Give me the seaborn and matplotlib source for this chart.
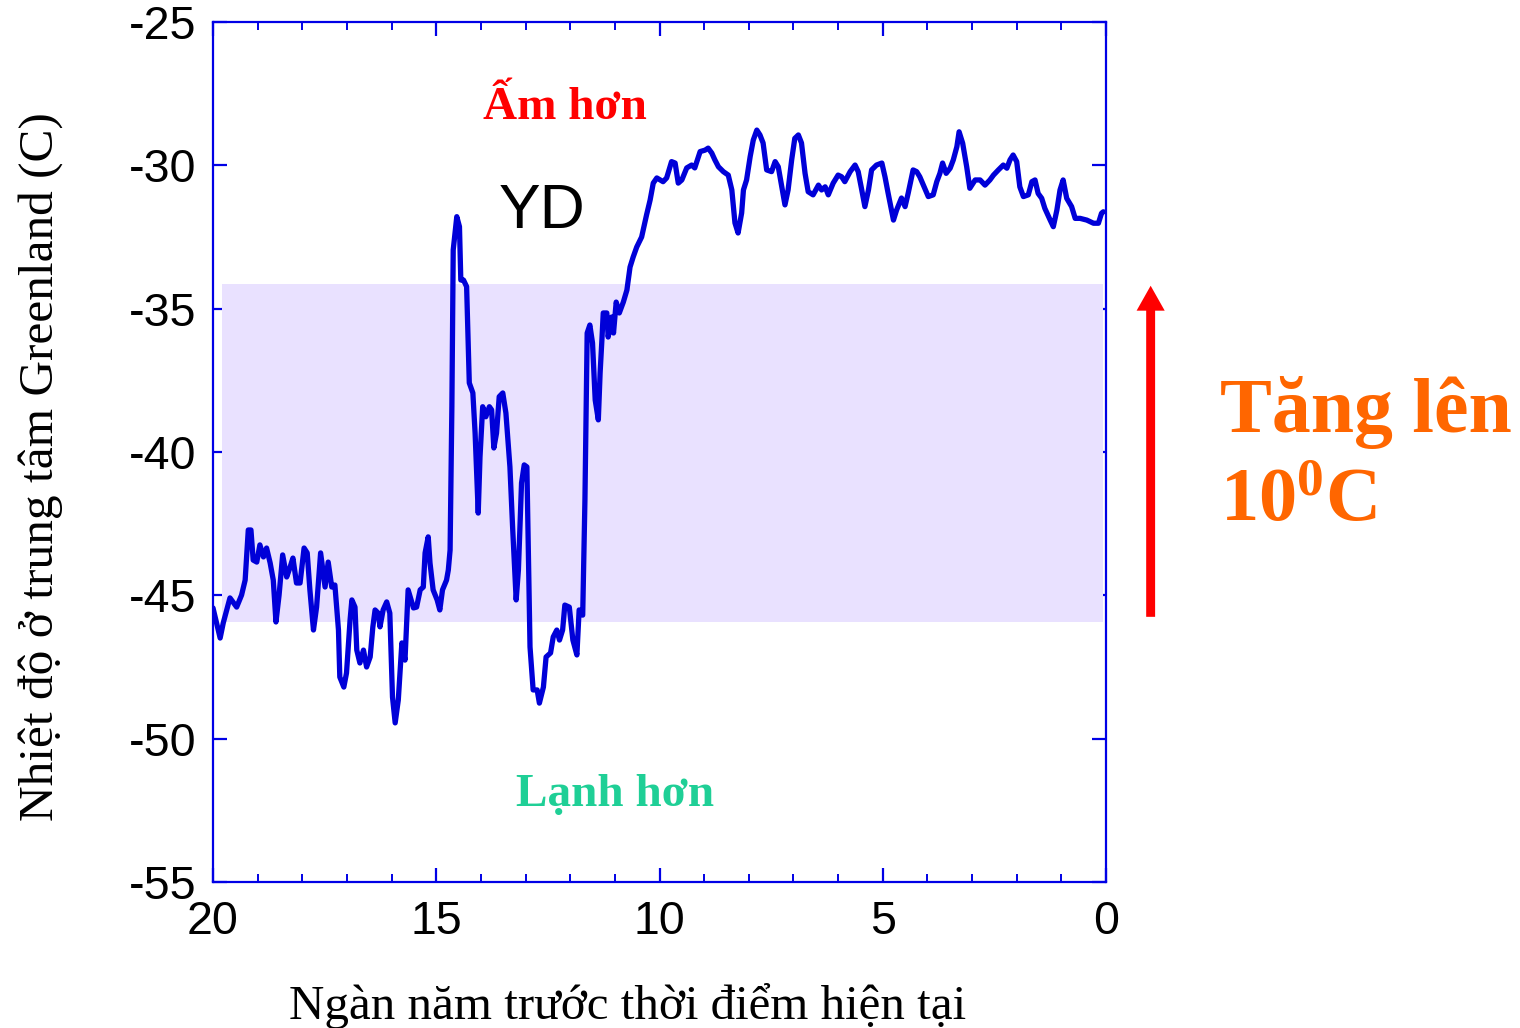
import numpy as np
import pandas as pd
import matplotlib
matplotlib.use("Agg")
import matplotlib.pyplot as plt
import seaborn as sns
from matplotlib.ticker import MultipleLocator

# Central Greenland temperature reconstruction (thousand years before present, deg C)
age_kyr = [
    20.00, 19.84, 19.77, 19.62, 19.47, 19.36, 19.28, 19.21, 19.15, 19.10,
    19.02, 18.95, 18.87, 18.80, 18.72, 18.65, 18.59, 18.52, 18.44, 18.35,
    18.28, 18.21, 18.13, 18.05, 17.96, 17.89, 17.83, 17.75, 17.68, 17.59,
    17.49, 17.42, 17.34, 17.27, 17.19, 17.16, 17.07, 17.01, 16.93, 16.89,
    16.82, 16.78, 16.71, 16.63, 16.56, 16.48, 16.42, 16.37, 16.30, 16.26,
    16.19, 16.11, 16.04, 15.98, 15.92, 15.85, 15.77, 15.70, 15.63, 15.51,
    15.44, 15.36, 15.29, 15.25, 15.18, 15.14, 15.07, 14.98, 14.92, 14.86,
    14.77, 14.73, 14.69, 14.65, 14.62, 14.54, 14.48, 14.45, 14.39, 14.32,
    14.26, 14.18, 14.13, 14.06, 14.02, 13.96, 13.89, 13.81, 13.76, 13.71,
    13.65, 13.59, 13.51, 13.44, 13.35, 13.29, 13.21, 13.16, 13.09, 13.03,
    12.97, 12.90, 12.83, 12.74, 12.69, 12.60, 12.54, 12.44, 12.38, 12.30,
    12.24, 12.17, 12.12, 12.02, 11.94, 11.85, 11.80, 11.72, 11.67, 11.62,
    11.56, 11.50, 11.44, 11.37, 11.33, 11.29, 11.26, 11.18, 11.15, 11.07,
    11.03, 10.97, 10.90, 10.81, 10.73, 10.66, 10.59, 10.51, 10.40, 10.29,
    10.21, 10.14, 10.06, 9.92, 9.84, 9.73, 9.65, 9.58, 9.50, 9.39,
    9.28, 9.21, 9.09, 8.98, 8.91, 8.83, 8.76, 8.68, 8.57, 8.46,
    8.38, 8.31, 8.24, 8.16, 8.12, 8.05, 7.97, 7.90, 7.82, 7.75,
    7.68, 7.60, 7.49, 7.41, 7.34, 7.26, 7.19, 7.12, 7.04, 6.97,
    6.89, 6.82, 6.74, 6.67, 6.56, 6.44, 6.37, 6.29, 6.22, 6.11,
    6.00, 5.92, 5.85, 5.73, 5.62, 5.55, 5.47, 5.40, 5.32, 5.25,
    5.14, 5.02, 4.95, 4.88, 4.76, 4.69, 4.58, 4.50, 4.43, 4.32,
    4.24, 4.17, 4.09, 3.98, 3.87, 3.79, 3.72, 3.66, 3.58, 3.49,
    3.42, 3.34, 3.29, 3.21, 3.12, 3.05, 2.93, 2.82, 2.71, 2.60,
    2.52, 2.41, 2.30, 2.22, 2.15, 2.08, 2.00, 1.93, 1.85, 1.74,
    1.66, 1.59, 1.52, 1.44, 1.37, 1.25, 1.18, 1.10, 1.03, 0.96,
    0.88, 0.77, 0.69, 0.58, 0.43, 0.28, 0.17, 0.10, 0.06,
]
temp_c = [
    -45.44, -46.49, -45.96, -45.09, -45.41, -44.99, -44.47, -42.72, -42.72, -43.77,
    -43.84, -43.24, -43.66, -43.35, -43.87, -44.47, -45.93, -44.99, -43.59, -44.36,
    -44.05, -43.70, -44.57, -44.57, -43.35, -43.52, -44.81, -46.21, -45.41, -43.52,
    -44.71, -43.84, -44.71, -44.64, -46.21, -47.85, -48.20, -47.71, -45.86, -45.16,
    -45.41, -46.91, -47.36, -46.91, -47.50, -47.15, -46.10, -45.51, -45.62, -46.10,
    -45.51, -45.23, -45.62, -48.55, -49.45, -48.65, -46.66, -47.26, -44.81, -45.44,
    -45.41, -44.81, -44.71, -43.52, -42.96, -43.87, -44.81, -45.16, -45.51, -44.81,
    -44.47, -44.12, -43.42, -38.42, -32.95, -31.79, -32.14, -34.00, -34.00, -34.23,
    -37.59, -37.94, -39.34, -42.13, -40.17, -38.42, -38.77, -38.42, -38.53, -39.86,
    -39.34, -38.07, -37.94, -38.64, -40.52, -42.62, -45.16, -44.12, -41.08, -40.45,
    -40.52, -46.80, -48.30, -48.30, -48.76, -48.20, -47.15, -47.01, -46.45, -46.21,
    -46.56, -46.21, -45.34, -45.41, -46.56, -47.08, -45.51, -45.69, -41.67, -35.85,
    -35.57, -36.20, -38.19, -38.88, -37.24, -36.09, -35.15, -35.15, -35.99, -35.29,
    -35.85, -34.77, -35.15, -34.77, -34.35, -33.55, -33.20, -32.85, -32.50, -31.73,
    -31.21, -30.62, -30.44, -30.57, -30.44, -29.87, -29.92, -30.62, -30.51, -30.09,
    -29.99, -30.09, -29.52, -29.47, -29.40, -29.57, -29.81, -30.05, -30.22, -30.34,
    -30.86, -32.01, -32.36, -31.66, -30.86, -30.51, -29.70, -29.12, -28.77, -28.94,
    -29.22, -30.16, -30.22, -29.87, -30.05, -30.75, -31.38, -30.86, -29.81, -29.06,
    -28.94, -29.22, -30.28, -30.92, -31.03, -30.69, -30.86, -30.75, -31.03, -30.62,
    -30.34, -30.40, -30.57, -30.22, -29.99, -30.22, -30.86, -31.44, -30.86, -30.16,
    -29.99, -29.92, -30.40, -30.97, -31.91, -31.56, -31.14, -31.44, -30.97, -30.16,
    -30.22, -30.40, -30.69, -31.09, -31.03, -30.57, -30.28, -29.92, -30.28, -30.10,
    -29.81, -29.35, -28.83, -29.23, -30.05, -30.80, -30.51, -30.51, -30.69, -30.51,
    -30.34, -30.16, -29.99, -30.10, -29.81, -29.64, -29.87, -30.75, -31.09, -31.03,
    -30.57, -30.51, -30.98, -31.15, -31.50, -31.91, -32.14, -31.56, -30.86, -30.51,
    -31.15, -31.44, -31.85, -31.85, -31.91, -32.02, -32.02, -31.67, -31.62,
]

# Shaded glacial-to-Holocene range
band_age = [19.8, 0.07]
band_low = -45.93
band_high = -34.14

# Warming arrow (placed just right of the plot, age axis units)
arrow_age = -1.0
arrow_from = -45.75
arrow_to = -34.2

x_ticks = [20, 15, 10, 5, 0]
y_ticks = [-55, -50, -45, -40, -35, -30, -25]

df = pd.DataFrame({"age": age_kyr, "temp": temp_c})

sns.set_theme(style="white")
plt.rcParams["font.family"] = ["Liberation Sans", "DejaVu Sans"]
plt.rcParams["mathtext.fontset"] = "custom"
plt.rcParams["mathtext.rm"] = "Liberation Serif:bold"
plt.rcParams["mathtext.it"] = "Liberation Serif:bold"
plt.rcParams["mathtext.bf"] = "Liberation Serif:bold"

fig = plt.figure(figsize=(15.2, 10.28), dpi=100)
fig.patch.set_facecolor("white")
ax = fig.add_axes([213 / 1520, 1 - 882 / 1028, 893 / 1520, 860 / 1028])
ax.set_facecolor("white")

ax.fill_between(band_age, band_low, band_high, color="#E9E1FF", lw=0, zorder=1)

sns.lineplot(data=df, x="age", y="temp", color="#0000D8", lw=3.8, ax=ax,
             estimator=None, zorder=3)

ax.set_xlim(20, 0)
ax.set_ylim(-55, -25)
ax.set_xticks(x_ticks)
ax.set_xticklabels([str(v) for v in x_ticks])
ax.set_yticks(y_ticks)
ax.set_yticklabels([str(v) for v in y_ticks])
ax.xaxis.set_minor_locator(MultipleLocator(1))

spine_color = "#0000E6"
for s in ax.spines.values():
    s.set_color(spine_color)
    s.set_linewidth(1.6)
    s.set_visible(True)

ax.tick_params(axis="both", which="major", direction="in", length=10, width=1.6,
               color=spine_color, labelsize=33.5, labelcolor="black",
               top=True, right=True, bottom=True, left=True)
ax.tick_params(axis="x", which="minor", direction="in", length=5.5, width=1.4,
               color=spine_color, top=True, bottom=True)
ax.tick_params(axis="y", which="major", pad=12)
ax.tick_params(axis="x", which="major", pad=13)
ax.grid(False)

serif = ["Liberation Serif", "DejaVu Serif"]
ax.set_xlabel("Ngàn năm trước thời điểm hiện tại", family=serif, fontsize=35.3,
              color="black")
ax.set_ylabel("Nhiệt độ ở trung tâm Greenland (C)", family=serif, fontsize=35.6,
              color="black")
ax.xaxis.set_label_coords(0.4647, -0.118)
ax.yaxis.set_label_coords(-0.168, 0.4826)

ax.text(12.12, -28.0, "Ấm hơn", color="#FF0000", fontsize=34, fontweight="bold",
        family=serif, ha="center", va="center")
ax.text(12.63, -31.6, "YD", color="black", fontsize=45, ha="center", va="center")
ax.text(11.0, -51.97, "Lạnh hơn", color="#1FCF96", fontsize=34, fontweight="bold",
        family=serif, ha="center", va="center")

ax.arrow(arrow_age, arrow_from, 0, arrow_to - arrow_from, width=0.2,
         head_width=0.63, head_length=0.87, length_includes_head=True,
         color="#FF0000", lw=0, clip_on=False, zorder=5)

orange = "#FF6600"
fig.text(1220 / 1520, 1 - 432 / 1028, "Tăng lên", color=orange, fontsize=56,
         fontweight="bold", family=serif, ha="left", va="baseline")
fig.text(1220 / 1520, 1 - 521 / 1028, "10$^{0}$C", color=orange, fontsize=55,
         fontweight="bold", family=serif, ha="left", va="baseline")

fig.savefig("out.png", dpi=100, facecolor="white")
